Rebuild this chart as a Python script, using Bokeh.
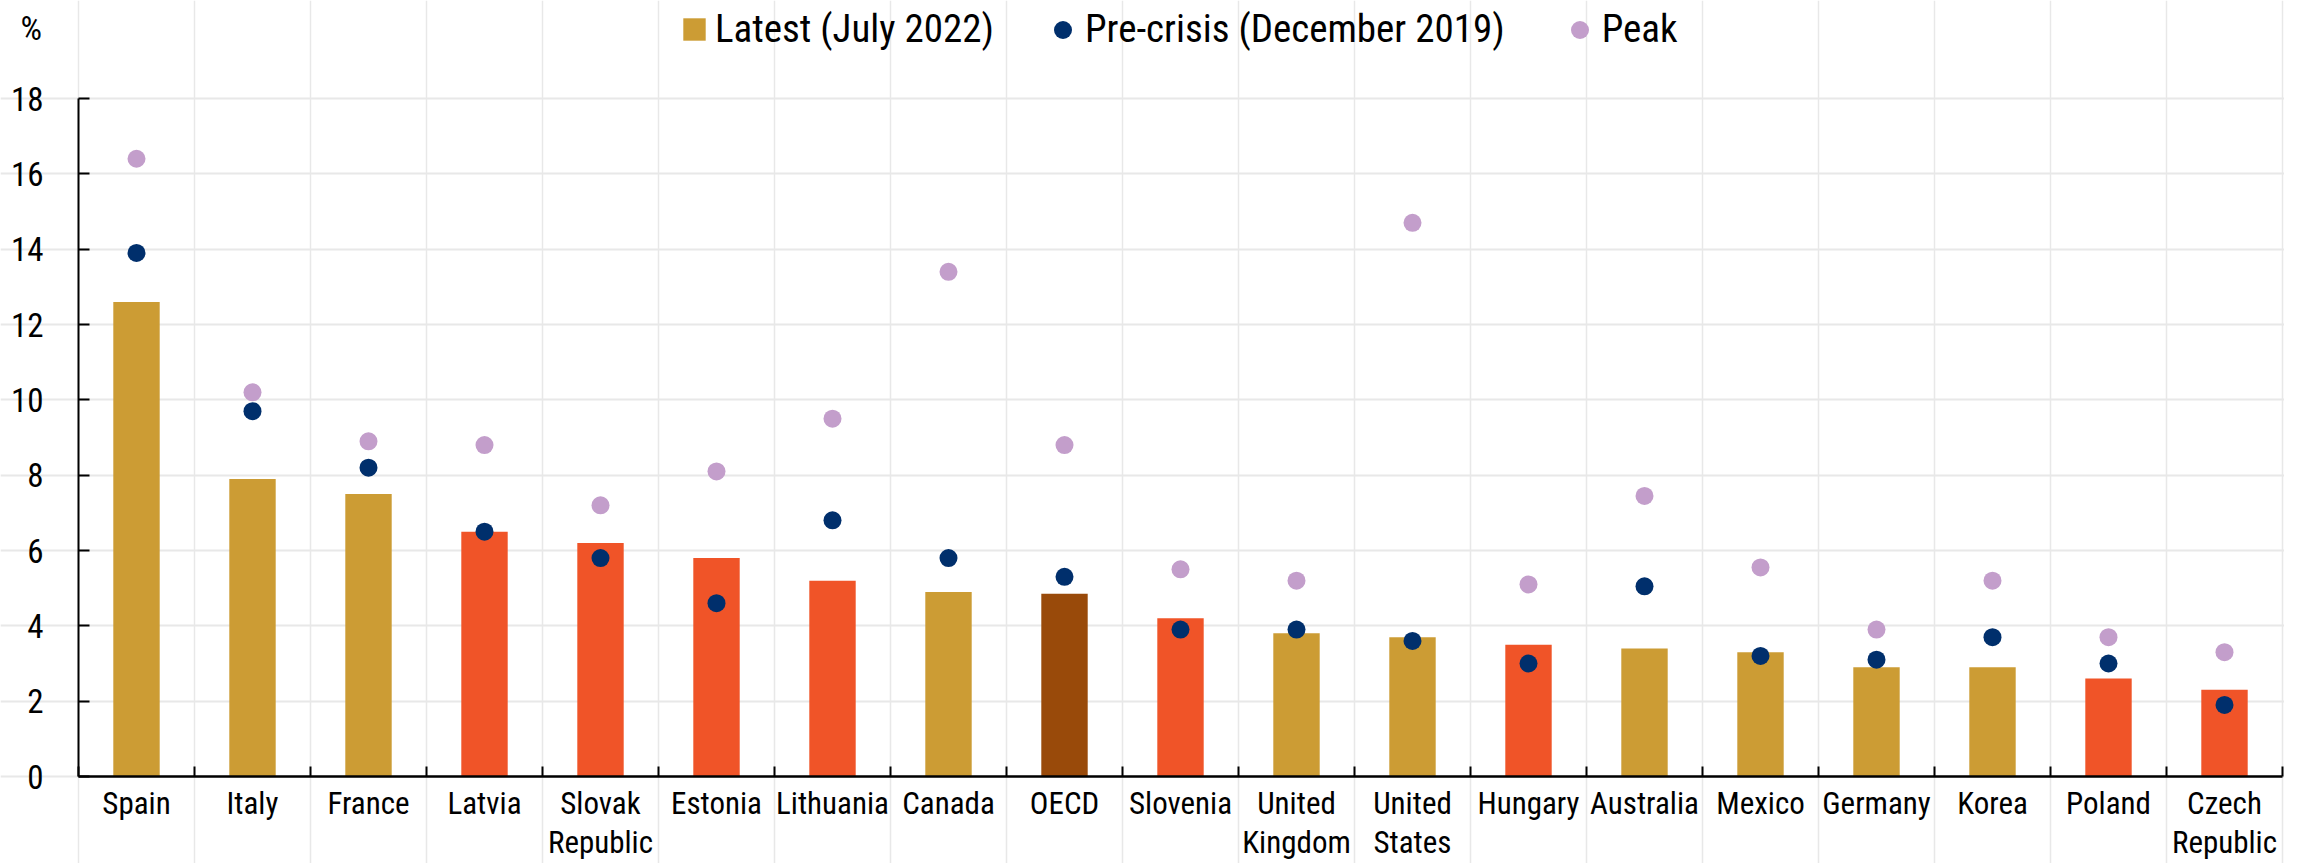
from bokeh.plotting import figure
from bokeh.models import (FixedTicker, Legend, LegendItem, Label,
                          ColumnDataSource, Range1d)
from bokeh.embed import file_html
from bokeh.resources import INLINE

# ---- data ----
categories = ["Spain", "Italy", "France", "Latvia", "Slovak\nRepublic", "Estonia",
              "Lithuania", "Canada", "OECD", "Slovenia", "United\nKingdom",
              "United\nStates", "Hungary", "Australia", "Mexico", "Germany",
              "Korea", "Poland", "Czech\nRepublic"]
latest = [12.6, 7.9, 7.5, 6.5, 6.2, 5.8, 5.2, 4.9, 4.85, 4.2, 3.8, 3.7, 3.5,
          3.4, 3.3, 2.9, 2.9, 2.6, 2.3]
precrisis = [13.9, 9.7, 8.2, 6.5, 5.8, 4.6, 6.8, 5.8, 5.3, 3.9, 3.9, 3.6, 3.0,
             5.05, 3.2, 3.1, 3.7, 3.0, 1.9]
peak = [16.4, 10.2, 8.9, 8.8, 7.2, 8.1, 9.5, 13.4, 8.8, 5.5, 5.2, 14.7, 5.1,
        7.45, 5.55, 3.9, 5.2, 3.7, 3.3]
group = ["a", "a", "a", "b", "b", "b", "b", "a", "o", "b", "a", "a", "b",
         "a", "a", "a", "a", "b", "b"]
y_ticks = [0, 2, 4, 6, 8, 10, 12, 14, 16, 18]
y_max = 18

palette = {"a": "#CC9C34", "b": "#F05428", "o": "#994A0A"}
NAVY = "#002F6C"
LAV = "#C39ECB"
FONT = ("'Liberation Sans Narrow', 'Arial Narrow', 'Roboto Condensed', "
        "'DejaVu Sans Condensed', 'Liberation Sans', sans-serif")

n = len(categories)
xs = [i + 0.5 for i in range(n)]
bounds_x = list(range(n + 1))

# ---- canvas geometry (pixels) ----
W, H = 2284, 863
LEFT, TOP, BOTTOM0, RIGHT = 78, 98, 776, 2282
px_per_unit_y = (BOTTOM0 - TOP) / y_max
px_per_cat = (RIGHT - LEFT) / n

src = ColumnDataSource(dict(x=xs, latest=latest, pre=precrisis, peak=peak,
                            color=[palette[g] for g in group]))

p = figure(width=W, height=H,
           x_range=Range1d(-LEFT / px_per_cat, (W - LEFT) / px_per_cat),
           y_range=Range1d(-(H - BOTTOM0) / px_per_unit_y, BOTTOM0 / px_per_unit_y),
           output_backend="svg", toolbar_location=None,
           min_border_left=0, min_border_right=0,
           min_border_top=0, min_border_bottom=0)
p.outline_line_color = None
p.background_fill_color = "white"
p.border_fill_color = "white"

# grids
p.xgrid.ticker = FixedTicker(ticks=bounds_x)
p.ygrid.ticker = FixedTicker(ticks=y_ticks)
p.xgrid.bounds = (0, y_max)
p.ygrid.bounds = (0, n)
p.xgrid.grid_line_color = "#E8E8E8"
p.ygrid.grid_line_color = "#E8E8E8"
p.xgrid.grid_line_width = 1.5
p.ygrid.grid_line_width = 2

# y axis
p.yaxis.fixed_location = 0
p.yaxis.bounds = (0, y_max)
p.yaxis.ticker = FixedTicker(ticks=y_ticks)
p.yaxis.minor_tick_line_color = None
p.yaxis.major_tick_in = 11
p.yaxis.major_tick_out = 0
p.yaxis.major_tick_line_width = 2
p.yaxis.axis_line_width = 2
p.yaxis.axis_line_color = "black"
p.yaxis.major_tick_line_color = "black"
p.yaxis.major_label_text_font = FONT
p.yaxis.major_label_text_font_size = "33px"
p.yaxis.major_label_text_color = "black"
p.yaxis.major_label_standoff = 35

# x axis at y = 0: labels at category centres, ticks at boundaries
p.xaxis.fixed_location = 0
p.xaxis.bounds = (0, n)
p.xaxis.ticker = FixedTicker(ticks=xs, minor_ticks=bounds_x)
p.xaxis.major_label_overrides = {x: c for x, c in zip(xs, categories)}
p.xaxis.major_tick_line_color = None
p.xaxis.minor_tick_in = 10
p.xaxis.minor_tick_out = 0
p.xaxis.minor_tick_line_width = 2
p.xaxis.minor_tick_line_color = "black"
p.xaxis.axis_line_width = 2.5
p.xaxis.axis_line_color = "black"
p.xaxis.major_label_text_font = FONT
p.xaxis.major_label_text_font_size = "31px"
p.xaxis.major_label_text_color = "black"
p.xaxis.major_label_text_line_height = 1.06
p.xaxis.major_label_standoff = 2

bars = p.vbar(x="x", top="latest", width=0.4, bottom=0, source=src,
              fill_color="color", line_color=None)
pk = p.scatter(x="x", y="peak", size=18, source=src, fill_color=LAV,
               line_color=None)
pc = p.scatter(x="x", y="pre", size=18, source=src, fill_color=NAVY,
               line_color=None)

# % label
p.add_layout(Label(x=20, y=H - 7, x_units="screen", y_units="screen", text="%",
                   text_font=FONT, text_font_size="34px", text_color="black",
                   text_align="left", text_baseline="top"))

# legends
common = dict(orientation="horizontal", padding=0, margin=0,
              border_line_alpha=0, background_fill_alpha=0,
              label_text_font=FONT, label_text_font_size="39px",
              label_text_color="black")
leg1 = Legend(items=[LegendItem(label="Latest (July 2022)", renderers=[bars], index=0)],
              location=(680, H - 52), glyph_width=28, glyph_height=28,
              label_standoff=7, **common)
leg2 = Legend(items=[LegendItem(label="Pre-crisis (December 2019)", renderers=[pc], index=0),
                     LegendItem(label="Peak", renderers=[pk], index=0)],
              location=(1040, H - 52), glyph_width=45, glyph_height=45,
              label_standoff=0, spacing=52, **common)
p.add_layout(leg1, "center")
p.add_layout(leg2, "center")

open("out.html", "w").write(file_html(p, INLINE))
